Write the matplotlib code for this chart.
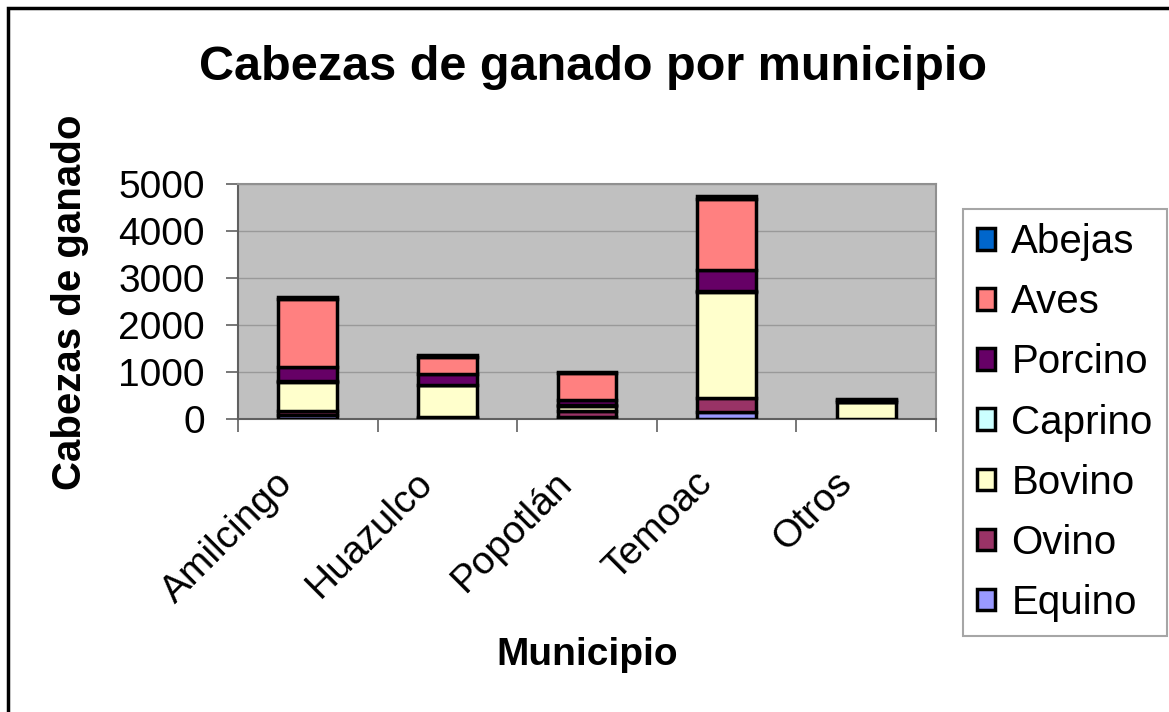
import matplotlib
matplotlib.use('Agg')
import matplotlib.pyplot as plt
from matplotlib.patches import Rectangle
from matplotlib.transforms import ScaledTranslation

municipios = ['Amilcingo', 'Huazulco', 'Popotlán', 'Temoac', 'Otros']

# stacked from bottom to top
equino = [85, 20, 50, 150, 0]
ovino = [80, 30, 130, 300, 0]
bovino = [625, 670, 90, 2250, 370]
caprino = [20, 10, 30, 30, 0]
porcino = [300, 220, 100, 450, 30]
aves = [1440, 360, 580, 1500, 0]
abejas = [40, 60, 30, 60, 30]

series = [
    ('Equino', equino, '#9999FF'),
    ('Ovino', ovino, '#993366'),
    ('Bovino', bovino, '#FFFFCC'),
    ('Caprino', caprino, '#CCFFFF'),
    ('Porcino', porcino, '#660066'),
    ('Aves', aves, '#FF8080'),
    ('Abejas', abejas, '#0066CC'),
]

plt.rcParams['font.family'] = ['Liberation Sans', 'DejaVu Sans']

W, H = 1169, 712
fig = plt.figure(figsize=(W / 100, H / 100), dpi=100)

ax = fig.add_axes([238 / W, 1 - 419 / H, 698 / W, 235 / H])
ax.set_facecolor('#C0C0C0')

x = list(range(len(municipios)))
bottom = [0] * len(municipios)
handles = []
for name, vals, color in series:
    b = ax.bar(x, vals, width=0.42, bottom=bottom, color=color,
               edgecolor='black', linewidth=2.5, label=name, zorder=3)
    handles.append(b)
    bottom = [bo + v for bo, v in zip(bottom, vals)]

ax.set_xlim(-0.5, len(municipios) - 0.5)
ax.set_ylim(0, 5000)
ax.set_yticks(range(0, 5001, 1000))
ax.yaxis.grid(True, color='#999999', linewidth=1, zorder=0)
ax.set_axisbelow(True)

# ticks on category boundaries, labels drawn as text at category centres
ax.set_xticks([i - 0.5 for i in range(len(municipios) + 1)])
ax.set_xticklabels([])
label_tr = ax.get_xaxis_transform() + ScaledTranslation(-0.33, -0.46, fig.dpi_scale_trans)
for i, name in enumerate(municipios):
    ax.text(i, 0, name, transform=label_tr, rotation=45, ha='right', va='top',
            rotation_mode='anchor', fontsize=28)
ax.tick_params(axis='x', which='major', length=9, color='#606060', width=1.2)
ax.tick_params(axis='y', length=9, color='#606060', width=1.2, labelsize=28, pad=15)

for side in ['top', 'right']:
    ax.spines[side].set_color('#909090')
    ax.spines[side].set_linewidth(1.5)
for side in ['left', 'bottom']:
    ax.spines[side].set_color('#606060')
    ax.spines[side].set_linewidth(1.5)

fig.text(593 / W, 1 - 68 / H, 'Cabezas de ganado por municipio', fontsize=35,
         fontweight='bold', ha='center', va='center')
fig.text(70 / W, 1 - 302 / H, 'Cabezas de ganado', fontsize=29, fontweight='bold',
         rotation=90, ha='center', va='center')
fig.text(587 / W, 1 - 655 / H, 'Municipio', fontsize=28, fontweight='bold',
         ha='center', va='center')

leg = fig.legend(handles[::-1], [s[0] for s in series][::-1],
                 loc='upper left', bbox_to_anchor=(963 / W, 1 - 209 / H),
                 fontsize=29, frameon=True, fancybox=False, handlelength=0.45,
                 handleheight=0.45, handletextpad=0.4, labelspacing=0.55,
                 borderpad=0.35, borderaxespad=0)
leg.get_frame().set_edgecolor('#909090')
leg.get_frame().set_linewidth(1.5)

fig.add_artist(Rectangle((8 / W, -0.1), 1.2, 1 - 8 / H + 0.1, transform=fig.transFigure,
                         fill=False, edgecolor='black', linewidth=2.5))

fig.savefig('out.png', dpi=100)
